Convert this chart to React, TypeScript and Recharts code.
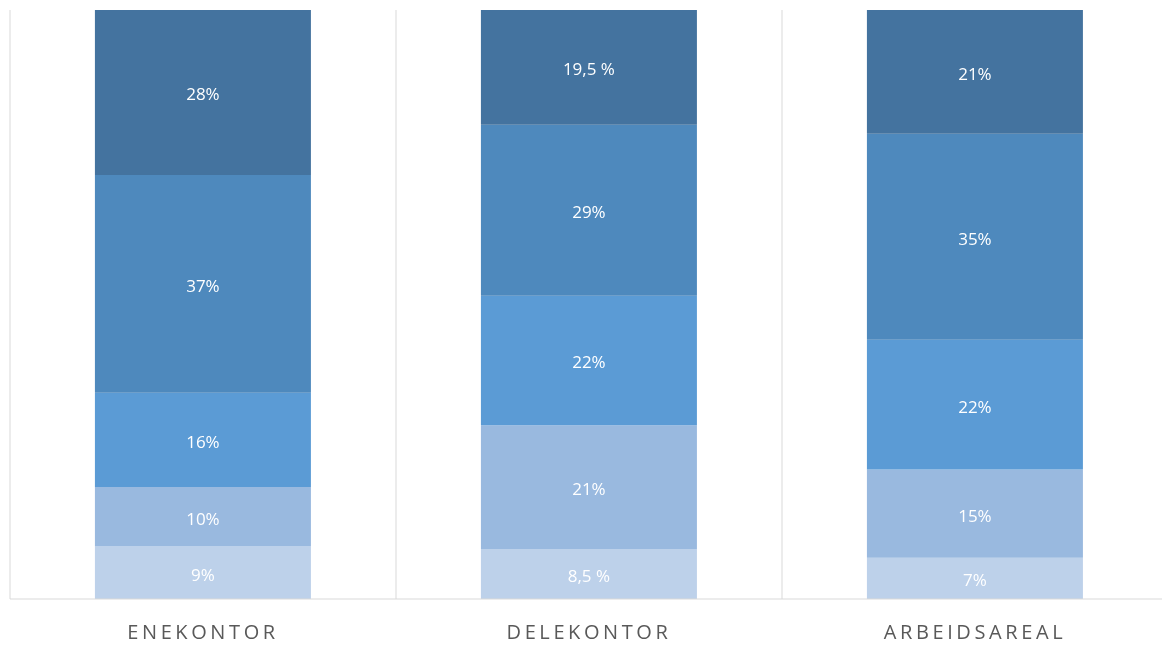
import React from 'react';
import { BarChart, Bar, XAxis, YAxis, CartesianGrid, LabelList } from 'recharts';

const categories = ['ENEKONTOR', 'DELEKONTOR', 'ARBEIDSAREAL'];
const level1 = [9, 8.5, 7];
const level2 = [10, 21, 15];
const level3 = [16, 22, 22];
const level4 = [37, 29, 35];
const level5 = [28, 19.5, 21];

const seriesKeys = ['level1', 'level2', 'level3', 'level4', 'level5'];
const colors = ['#bdd1ea', '#99b9df', '#5b9bd5', '#4e89bd', '#44739f'];

const data = categories.map((name, i) => ({
  name,
  level1: level1[i],
  level2: level2[i],
  level3: level3[i],
  level4: level4[i],
  level5: level5[i],
}));

const formatPct = (v: number) =>
  Number.isInteger(v) ? `${v}%` : `${String(v).replace('.', ',')} %`;

const CategoryTick = (props: any) => {
  const { x, y, payload } = props;
  return (
    <text
      x={x}
      y={y + 32}
      textAnchor="middle"
      fill="#595959"
      fontSize={20}
      fontFamily="'Open Sans', sans-serif"
      style={{ letterSpacing: 3.6 }}
    >
      {payload.value}
    </text>
  );
};

const App: React.FC = () => {
  return (
    <div
      style={{
        position: 'fixed',
        top: 8,
        left: 8,
        width: 1154,
        height: 638,
        overflow: 'hidden',
      }}
    >
      <BarChart
        width={1170}
        height={638}
        data={data}
        barCategoryGap="22%"
        margin={{ top: 2, right: 10, left: 2, bottom: 7 }}
      >
        <CartesianGrid
          horizontal={false}
          stroke="#d9d9d9"
          verticalCoordinatesGenerator={({ offset }: any) =>
            categories.map((_, i) => offset.left + (i * offset.width) / categories.length)
          }
        />
        <XAxis
          dataKey="name"
          axisLine={{ stroke: '#d9d9d9' }}
          tickLine={false}
          height={40}
          tick={<CategoryTick />}
        />
        <YAxis hide domain={[0, 100]} />
        {seriesKeys.map((key, idx) => (
          <Bar
            key={key}
            dataKey={key}
            stackId="a"
            fill={colors[idx]}
            isAnimationActive={false}
          >
            <LabelList
              dataKey={key}
              position="center"
              formatter={(v: any) => formatPct(Number(v))}
              fill="#ffffff"
              fontSize={17}
              dy={2}
              fontFamily="'Open Sans', sans-serif"
            />
          </Bar>
        ))}
      </BarChart>
    </div>
  );
};

export default App;
